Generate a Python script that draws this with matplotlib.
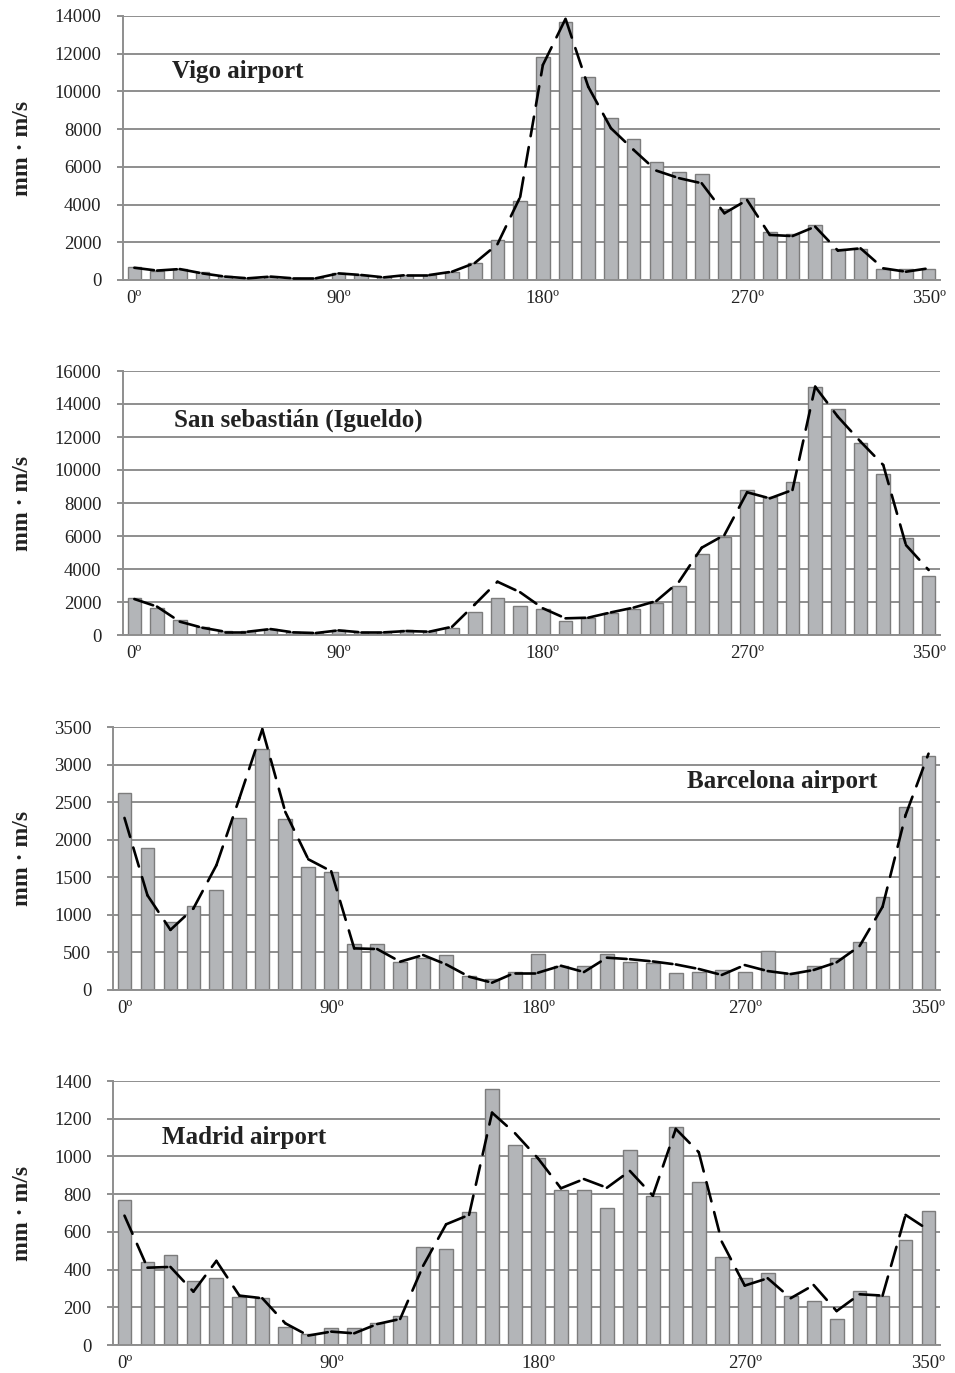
import matplotlib
matplotlib.use("Agg")
import matplotlib.pyplot as plt

plt.rcParams["font.family"] = ["Liberation Serif", "DejaVu Serif"]

# wind direction bins, 10º apart
angles = list(range(0, 360, 10))
tick_pos = [0, 9, 18, 27, 35]
tick_labels = ["0º", "90º", "180º", "270º", "350º"]

vigo_bars = [670, 500, 570, 440, 210, 90, 180, 90, 90, 350, 265, 180, 265, 265, 440, 880,
             2120, 4170, 11840, 13680, 10780, 8590, 7500, 6240, 5750, 5600, 3750, 4330,
             2530, 2420, 2900, 1630, 1630, 570, 570, 600]
vigo_line = [650, 500, 580, 350, 180, 90, 180, 90, 90, 350, 265, 140, 265, 265, 440, 900,
             1900, 4400, 11400, 13850, 10250, 8050, 6900, 5800, 5400, 5130, 3540, 4240,
             2390, 2330, 2830, 1560, 1680, 620, 440, 620]

sansebastian_bars = [2260, 1620, 890, 500, 240, 240, 360, 160, 120, 280, 160, 160, 280, 240,
                     400, 1390, 2260, 1760, 1600, 850, 1010, 1310, 1555, 1920, 2970, 4890,
                     5940, 8770, 8360, 9270, 15010, 13700, 11620, 9780, 5900, 3575]
sansebastian_line = [2180, 1720, 810, 440, 200, 200, 360, 160, 120, 280, 160, 160, 240, 200,
                     500, 1850, 3230, 2590, 1620, 1010, 1050, 1370, 1660, 2060, 3230, 5290,
                     6060, 8650, 8280, 8790, 15050, 13230, 11720, 10300, 5450, 3940]

barcelona_bars = [2620, 1890, 900, 1115, 1330, 2290, 3210, 2270, 1640, 1565, 607, 607, 377,
                  430, 465, 190, 140, 244, 478, 323, 320, 478, 377, 354, 222, 244, 261, 235,
                  518, 222, 323, 421, 633, 1240, 2430, 3120]
barcelona_line = [2290, 1260, 800, 1085, 1660, 2550, 3470, 2370, 1740, 1580, 554, 545, 377,
                  465, 341, 177, 97, 230, 230, 323, 239, 430, 410, 380, 340, 280, 200, 332,
                  252, 212, 266, 368, 585, 1108, 2326, 3145]

madrid_bars = [767, 442, 477, 341, 357, 255, 248, 97, 57, 88, 88, 115, 156, 520, 509, 707,
               1358, 1061, 990, 824, 824, 728, 1032, 790, 1156, 863, 467, 357, 380, 262, 235,
               136, 288, 258, 557, 712]
madrid_line = [686, 410, 414, 283, 446, 262, 248, 115, 50, 71, 62, 111, 138, 420, 640, 690,
               1232, 1123, 990, 831, 880, 834, 923, 792, 1146, 1022, 548, 315, 354, 248, 318,
               180, 269, 262, 690, 610]

W, H = 955, 1373
fig = plt.figure(figsize=(W / 100, H / 100), dpi=100)

# (title, bars, line, ymax, ystep, axes rect in px [left, top, right, bottom], title pos in axes frac)
panels = [
    ("Vigo airport", vigo_bars, vigo_line, 14000, 2000, (123, 16, 940, 280), (0.060, 0.765)),
    ("San sebastián (Igueldo)", sansebastian_bars, sansebastian_line, 16000, 2000,
     (123, 371, 940, 635), (0.062, 0.788)),
    ("Barcelona airport", barcelona_bars, barcelona_line, 3500, 500,
     (113, 727, 940, 990), (0.694, 0.767)),
    ("Madrid airport", madrid_bars, madrid_line, 1400, 200, (113, 1081, 940, 1345), (0.059, 0.761)),
]

grid_col = "#8e8e8e"
x = list(range(len(angles)))

for title, bars, line, ymax, ystep, (l, t, r, b), (tx, ty) in panels:
    ax = fig.add_axes([l / W, 1 - b / H, (r - l) / W, (b - t) / H])
    ax.bar(x, bars, width=0.6, color="#b3b5b8", edgecolor="#7c7c7c", linewidth=1.0, zorder=2)
    # each segment restarts its own dash pattern
    for i in range(len(x) - 1):
        ax.plot(x[i:i + 2], line[i:i + 2], color="black", lw=1.9,
                linestyle=(0, (7.5, 4.2)), dash_capstyle="round",
                solid_capstyle="round", zorder=3)
    ax.set_xlim(-0.5, len(x) - 0.5)
    ax.set_ylim(0, ymax)
    ax.set_yticks(range(0, ymax + 1, ystep))
    ax.set_xticks(tick_pos)
    ax.set_xticklabels(tick_labels)
    ax.yaxis.grid(True, color=grid_col, lw=1.4)
    ax.set_axisbelow(True)
    for side in ("top", "right"):
        ax.spines[side].set_visible(False)
    for side in ("left", "bottom"):
        ax.spines[side].set_color(grid_col)
        ax.spines[side].set_linewidth(1.4)
    ax.tick_params(axis="y", direction="out", length=4.5, width=1.4, color=grid_col,
                   labelsize=13.5, pad=11, labelcolor="#222222")
    ax.tick_params(axis="x", length=0, labelsize=13.5, pad=7, labelcolor="#222222")
    ax.text(tx, ty, title, transform=ax.transAxes, fontsize=18, fontweight="bold",
            color="#222222", ha="left", va="baseline")
    fig.text(22.5 / W, 1 - (t + b) / 2 / H, "mm · m/s", rotation=90, ha="center",
             va="center", fontsize=17, fontweight="bold", color="#222222")

fig.savefig("out.png", dpi=100)
